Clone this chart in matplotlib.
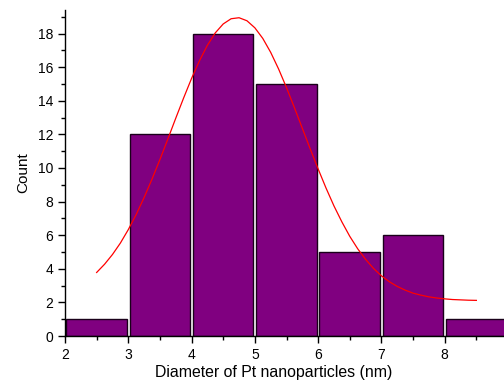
import matplotlib
matplotlib.use("Agg")
import matplotlib.pyplot as plt
from matplotlib.ticker import MultipleLocator, FixedLocator

plt.rcParams['font.family'] = ['Liberation Sans', 'DejaVu Sans']

# Histogram data
bin_left = [2, 3, 4, 5, 6, 7, 8]
counts = [1, 12, 18, 15, 5, 6, 1]
x_ticks = [2, 3, 4, 5, 6, 7, 8]

# Fitted curve
fit_x = [2.5, 2.625, 2.75, 2.875, 3.0, 3.125, 3.25, 3.375, 3.5, 3.625, 3.75, 3.875,
         4.0, 4.125, 4.25, 4.375, 4.5, 4.625, 4.75, 4.875, 5.0, 5.125, 5.25, 5.375,
         5.5, 5.625, 5.75, 5.875, 6.0, 6.125, 6.25, 6.375, 6.5, 6.625, 6.75, 6.875,
         7.0, 7.125, 7.25, 7.375, 7.5, 7.625, 7.75, 7.875, 8.0, 8.125, 8.25, 8.375, 8.5]
fit_y = [3.78, 4.27, 4.85, 5.53, 6.33, 7.23, 8.24, 9.34, 10.50, 11.72, 12.96, 14.17,
         15.33, 16.38, 17.30, 18.04, 18.57, 18.88, 18.94, 18.76, 18.34, 17.71, 16.88, 15.89,
         14.78, 13.59, 12.36, 11.13, 9.94, 8.80, 7.74, 6.79, 5.93, 5.19, 4.56, 4.02,
         3.58, 3.23, 2.95, 2.73, 2.55, 2.43, 2.33, 2.26, 2.21, 2.17, 2.15, 2.13, 2.12]

xlabel = "Diameter of Pt nanoparticles (nm)"
ylabel = "Count"

fig = plt.figure(figsize=(5.04, 3.80), dpi=100)
ax = fig.add_axes([65/504, 44/380, 443/504, 326/380])

ax.bar([b + 0.02 for b in bin_left], counts, width=0.955, align='edge',
       color='#800080', edgecolor='#1a001a', linewidth=1.0, zorder=2)
ax.plot(fit_x, fit_y, color='red', linewidth=0.9, zorder=3)

ax.set_xlim(2, 9)
ax.set_ylim(0, 19.4)
ax.xaxis.set_major_locator(FixedLocator(x_ticks))
ax.xaxis.set_minor_locator(MultipleLocator(0.5))
ax.yaxis.set_major_locator(MultipleLocator(2))
ax.yaxis.set_minor_locator(MultipleLocator(1))
ax.tick_params(which='major', direction='out', length=5, width=1, labelsize=10, colors='black')
ax.tick_params(which='minor', direction='out', length=3, width=1)
ax.spines['top'].set_visible(False)
ax.spines['right'].set_visible(False)
ax.spines['left'].set_linewidth(1)
ax.spines['bottom'].set_linewidth(1)

ax.set_xlabel(xlabel, fontsize=11.4)
ax.set_ylabel(ylabel, fontsize=11)
ax.xaxis.label.set_va('center')
ax.yaxis.label.set_va('center')
ax.xaxis.set_label_coords((274 - 65) / 443, -(372 - 336) / 326)
ax.yaxis.set_label_coords((23 - 65) / 443, 0.5)

fig.savefig("out.png", dpi=100)
